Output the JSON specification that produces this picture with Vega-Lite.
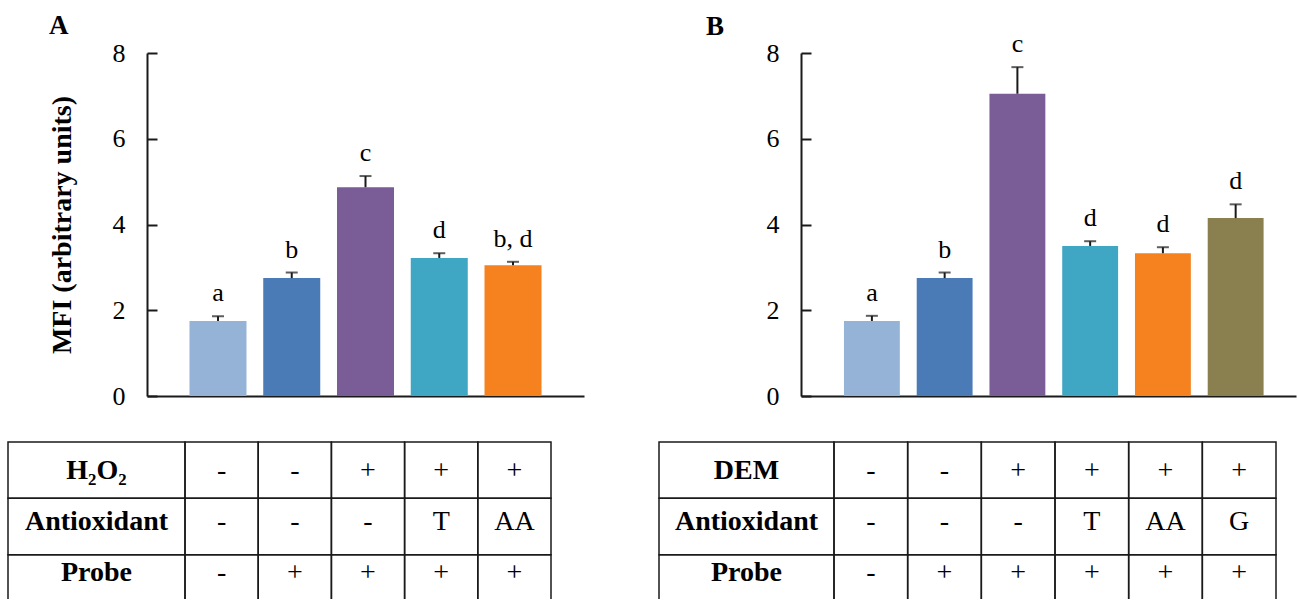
{
  "$schema": "https://vega.github.io/schema/vega-lite/v6.json",
  "background": "white",
  "padding": {"left": 7, "top": 12, "right": 0, "bottom": 0},
  "spacing": 74,
  "config": {
    "view": {"stroke": null},
    "font": "Liberation Serif",
    "title": {"font": "Liberation Serif", "fontSize": 27, "fontWeight": "bold", "color": "black", "anchor": "start", "frame": "group"},
    "axis": {"labelFont": "Liberation Serif", "titleFont": "Liberation Serif", "labelColor": "black", "titleColor": "black", "domainColor": "#1a1a1a", "tickColor": "#1a1a1a", "domainWidth": 2, "tickWidth": 2, "grid": false},
    "text": {"font": "Liberation Serif", "color": "black"}
  },
  "datasets": {
    "barsA": [
      {"g": "1", "v": 1.75, "upper": 1.86, "lab": "a"},
      {"g": "2", "v": 2.75, "upper": 2.88, "lab": "b"},
      {"g": "3", "v": 4.87, "upper": 5.13, "lab": "c"},
      {"g": "4", "v": 3.22, "upper": 3.33, "lab": "d"},
      {"g": "5", "v": 3.05, "upper": 3.13, "lab": "b, d"}
    ],
    "barsB": [
      {"g": "1", "v": 1.75, "upper": 1.87, "lab": "a"},
      {"g": "2", "v": 2.75, "upper": 2.88, "lab": "b"},
      {"g": "3", "v": 7.05, "upper": 7.67, "lab": "c"},
      {"g": "4", "v": 3.5, "upper": 3.61, "lab": "d"},
      {"g": "5", "v": 3.33, "upper": 3.47, "lab": "d"},
      {"g": "6", "v": 4.15, "upper": 4.47, "lab": "d"}
    ],
    "hdrA": [
      {"row": "H₂O₂", "col": "h"},
      {"row": "Antioxidant", "col": "h"},
      {"row": "Probe", "col": "h"}
    ],
    "hdrB": [
      {"row": "DEM", "col": "h"},
      {"row": "Antioxidant", "col": "h"},
      {"row": "Probe", "col": "h"}
    ],
    "tabA": [
      {"row": "H₂O₂", "g": "1", "t": "-"}, {"row": "H₂O₂", "g": "2", "t": "-"}, {"row": "H₂O₂", "g": "3", "t": "+"}, {"row": "H₂O₂", "g": "4", "t": "+"}, {"row": "H₂O₂", "g": "5", "t": "+"},
      {"row": "Antioxidant", "g": "1", "t": "-"}, {"row": "Antioxidant", "g": "2", "t": "-"}, {"row": "Antioxidant", "g": "3", "t": "-"}, {"row": "Antioxidant", "g": "4", "t": "T"}, {"row": "Antioxidant", "g": "5", "t": "AA"},
      {"row": "Probe", "g": "1", "t": "-"}, {"row": "Probe", "g": "2", "t": "+"}, {"row": "Probe", "g": "3", "t": "+"}, {"row": "Probe", "g": "4", "t": "+"}, {"row": "Probe", "g": "5", "t": "+"}
    ],
    "tabB": [
      {"row": "DEM", "g": "1", "t": "-"}, {"row": "DEM", "g": "2", "t": "-"}, {"row": "DEM", "g": "3", "t": "+"}, {"row": "DEM", "g": "4", "t": "+"}, {"row": "DEM", "g": "5", "t": "+"}, {"row": "DEM", "g": "6", "t": "+"},
      {"row": "Antioxidant", "g": "1", "t": "-"}, {"row": "Antioxidant", "g": "2", "t": "-"}, {"row": "Antioxidant", "g": "3", "t": "-"}, {"row": "Antioxidant", "g": "4", "t": "T"}, {"row": "Antioxidant", "g": "5", "t": "AA"}, {"row": "Antioxidant", "g": "6", "t": "G"},
      {"row": "Probe", "g": "1", "t": "-"}, {"row": "Probe", "g": "2", "t": "+"}, {"row": "Probe", "g": "3", "t": "+"}, {"row": "Probe", "g": "4", "t": "+"}, {"row": "Probe", "g": "5", "t": "+"}, {"row": "Probe", "g": "6", "t": "+"}
    ]
  },
  "hconcat": [
    {
      "title": {"text": "A", "dx": 42, "dy": 4},
      "width": 577,
      "height": 546,
      "resolve": {"scale": {"x": "independent", "y": "independent"}},
      "layer": [
        {
          "data": {"name": "barsA"},
          "encoding": {
            "x": {"field": "g", "type": "nominal", "scale": {"type": "band", "range": [140, 577], "paddingInner": 0.227, "paddingOuter": 0.576}, "axis": {"labels": false, "ticks": false, "title": null, "offset": -203}}
          },
          "layer": [
            {
              "mark": {"type": "bar"},
              "encoding": {
                "y": {"field": "v", "type": "quantitative", "scale": {"domain": [0, 8], "range": [343, 0]}, "axis": {"values": [0, 2, 4, 6, 8], "format": "d", "offset": -140, "tickSize": -10, "labelPadding": 32, "labelFontSize": 26, "title": "MFI (arbitrary units)", "titleFontSize": 28, "titleFontWeight": "bold", "titlePadding": 36}},
                "color": {"field": "g", "type": "nominal", "scale": {"domain": ["1", "2", "3", "4", "5", "6"], "range": ["#95B3D7", "#4A7BB7", "#7A5C96", "#3FA6C4", "#F5821F", "#8A7F4E"]}, "legend": null}
              }
            },
            {
              "mark": {"type": "rule", "color": "#1a1a1a", "strokeWidth": 2},
              "encoding": {"y": {"field": "v", "type": "quantitative"}, "y2": {"field": "upper"}}
            },
            {
              "mark": {"type": "tick", "color": "#1a1a1a", "thickness": 2, "size": 12},
              "encoding": {"y": {"field": "upper", "type": "quantitative"}}
            },
            {
              "mark": {"type": "text", "fontSize": 26, "baseline": "alphabetic", "dy": -15},
              "encoding": {"y": {"field": "upper", "type": "quantitative"}, "text": {"field": "lab"}}
            }
          ]
        },
        {
          "data": {"name": "hdrA"},
          "mark": {"type": "rect", "fill": null, "stroke": "#1a1a1a", "strokeWidth": 1.5, "clip": true},
          "encoding": {
            "x": {"field": "col", "type": "nominal", "scale": {"type": "band", "range": [1, 178], "paddingInner": 0, "paddingOuter": 0}, "axis": null},
            "y": {"field": "row", "type": "nominal", "scale": {"type": "band", "domain": ["H₂O₂", "Antioxidant", "Probe"], "range": [389, 558], "paddingInner": 0, "paddingOuter": 0}, "axis": null}
          }
        },
        {
          "data": {"name": "hdrA"},
          "mark": {"type": "text", "fontSize": 28, "fontWeight": "bold"},
          "encoding": {
            "x": {"field": "col", "type": "nominal", "scale": {"type": "band", "range": [1, 178], "paddingInner": 0, "paddingOuter": 0}, "axis": null},
            "y": {"field": "row", "type": "nominal", "scale": {"type": "band", "domain": ["H₂O₂", "Antioxidant", "Probe"], "range": [392, 546], "paddingInner": 0, "paddingOuter": 0}, "axis": null},
            "text": {"field": "row"}
          }
        },
        {
          "data": {"name": "tabA"},
          "mark": {"type": "rect", "fill": null, "stroke": "#1a1a1a", "strokeWidth": 1.5, "clip": true},
          "encoding": {
            "x": {"field": "g", "type": "nominal", "scale": {"type": "band", "range": [178, 544], "paddingInner": 0, "paddingOuter": 0}, "axis": null},
            "y": {"field": "row", "type": "nominal", "scale": {"type": "band", "domain": ["H₂O₂", "Antioxidant", "Probe"], "range": [389, 558], "paddingInner": 0, "paddingOuter": 0}, "axis": null}
          }
        },
        {
          "data": {"name": "tabA"},
          "mark": {"type": "text", "fontSize": 28},
          "encoding": {
            "x": {"field": "g", "type": "nominal", "scale": {"type": "band", "range": [178, 544], "paddingInner": 0, "paddingOuter": 0}, "axis": null},
            "y": {"field": "row", "type": "nominal", "scale": {"type": "band", "domain": ["H₂O₂", "Antioxidant", "Probe"], "range": [392, 546], "paddingInner": 0, "paddingOuter": 0}, "axis": null},
            "text": {"field": "t"}
          }
        }
      ]
    },
    {
      "title": {"text": "B", "dx": 48, "dy": 14},
      "width": 639,
      "height": 546,
      "resolve": {"scale": {"x": "independent", "y": "independent"}},
      "layer": [
        {
          "data": {"name": "barsB"},
          "encoding": {
            "x": {"field": "g", "type": "nominal", "scale": {"type": "band", "range": [143, 638], "paddingInner": 0.232, "paddingOuter": 0.518, "align": 0.57}, "axis": {"labels": false, "ticks": false, "title": null, "offset": -203}}
          },
          "layer": [
            {
              "mark": {"type": "bar"},
              "encoding": {
                "y": {"field": "v", "type": "quantitative", "scale": {"domain": [0, 8], "range": [343, 0]}, "axis": {"values": [0, 2, 4, 6, 8], "format": "d", "offset": -143, "tickSize": -10, "labelPadding": 32, "labelFontSize": 26, "title": null}},
                "color": {"field": "g", "type": "nominal", "scale": {"domain": ["1", "2", "3", "4", "5", "6"], "range": ["#95B3D7", "#4A7BB7", "#7A5C96", "#3FA6C4", "#F5821F", "#8A7F4E"]}, "legend": null}
              }
            },
            {
              "mark": {"type": "rule", "color": "#1a1a1a", "strokeWidth": 2},
              "encoding": {"y": {"field": "v", "type": "quantitative"}, "y2": {"field": "upper"}}
            },
            {
              "mark": {"type": "tick", "color": "#1a1a1a", "thickness": 2, "size": 12},
              "encoding": {"y": {"field": "upper", "type": "quantitative"}}
            },
            {
              "mark": {"type": "text", "fontSize": 26, "baseline": "alphabetic", "dy": -15},
              "encoding": {"y": {"field": "upper", "type": "quantitative"}, "text": {"field": "lab"}}
            }
          ]
        },
        {
          "data": {"name": "hdrB"},
          "mark": {"type": "rect", "fill": null, "stroke": "#1a1a1a", "strokeWidth": 1.5, "clip": true},
          "encoding": {
            "x": {"field": "col", "type": "nominal", "scale": {"type": "band", "range": [1, 176], "paddingInner": 0, "paddingOuter": 0}, "axis": null},
            "y": {"field": "row", "type": "nominal", "scale": {"type": "band", "domain": ["DEM", "Antioxidant", "Probe"], "range": [389, 558], "paddingInner": 0, "paddingOuter": 0}, "axis": null}
          }
        },
        {
          "data": {"name": "hdrB"},
          "mark": {"type": "text", "fontSize": 28, "fontWeight": "bold"},
          "encoding": {
            "x": {"field": "col", "type": "nominal", "scale": {"type": "band", "range": [1, 176], "paddingInner": 0, "paddingOuter": 0}, "axis": null},
            "y": {"field": "row", "type": "nominal", "scale": {"type": "band", "domain": ["DEM", "Antioxidant", "Probe"], "range": [392, 546], "paddingInner": 0, "paddingOuter": 0}, "axis": null},
            "text": {"field": "row"}
          }
        },
        {
          "data": {"name": "tabB"},
          "mark": {"type": "rect", "fill": null, "stroke": "#1a1a1a", "strokeWidth": 1.5, "clip": true},
          "encoding": {
            "x": {"field": "g", "type": "nominal", "scale": {"type": "band", "range": [176, 618], "paddingInner": 0, "paddingOuter": 0}, "axis": null},
            "y": {"field": "row", "type": "nominal", "scale": {"type": "band", "domain": ["DEM", "Antioxidant", "Probe"], "range": [389, 558], "paddingInner": 0, "paddingOuter": 0}, "axis": null}
          }
        },
        {
          "data": {"name": "tabB"},
          "mark": {"type": "text", "fontSize": 28},
          "encoding": {
            "x": {"field": "g", "type": "nominal", "scale": {"type": "band", "range": [176, 618], "paddingInner": 0, "paddingOuter": 0}, "axis": null},
            "y": {"field": "row", "type": "nominal", "scale": {"type": "band", "domain": ["DEM", "Antioxidant", "Probe"], "range": [392, 546], "paddingInner": 0, "paddingOuter": 0}, "axis": null},
            "text": {"field": "t"}
          }
        }
      ]
    }
  ]
}
